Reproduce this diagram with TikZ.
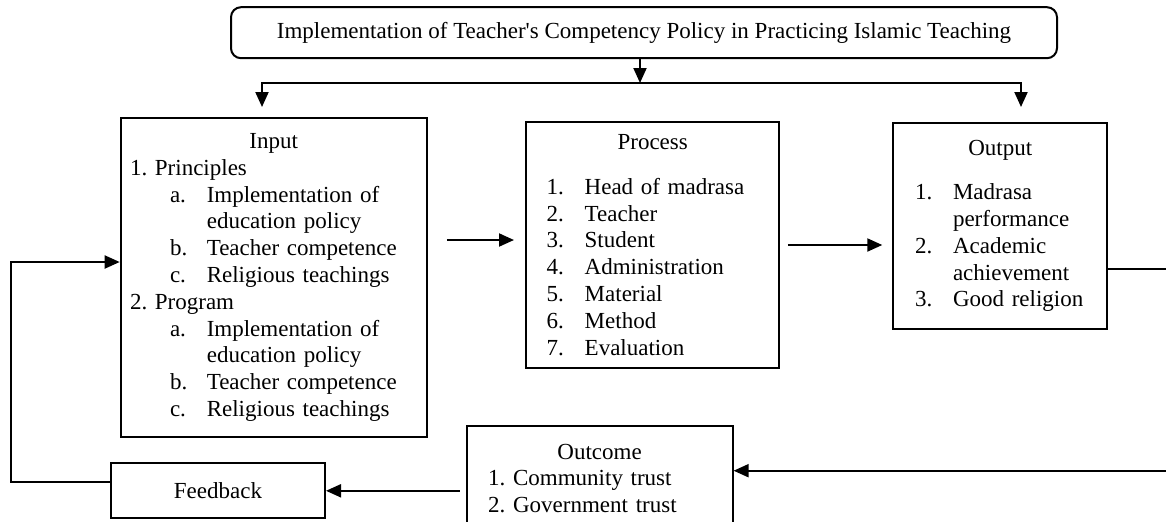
\documentclass[tikz,border=0pt]{standalone}
\usepackage{fontspec}
\setmainfont{Liberation Serif}
\usepackage{tikz}
\usetikzlibrary{arrows.meta}
\usetikzlibrary{positioning}

\newcommand{\numitm}[2]{\makebox[19pt][l]{#1}#2}
\newcommand{\subitm}[2]{\hspace*{20pt}\makebox[18.4pt][l]{#1}#2}
\frenchspacing

\begin{document}
\begin{tikzpicture}[x=0.5pt,y=-0.5pt,
  every node/.style={font=\fontsize{11.5}{13.4}\selectfont},
  box/.style={draw,line width=1pt,inner ysep=0pt,align=left},
  arr/.style={line width=1pt,-{Triangle[length=7.5pt,width=6.5pt]}}]
  \useasboundingbox (0,0) rectangle (1166,521);

  \node[draw,line width=1pt,rounded corners=5pt,minimum width=413pt,minimum height=25.5pt] (title) at (644,32.7)
    {Implementation of Teacher\textquotesingle s Competency Policy in Practicing Islamic Teaching};

  \node[box,text width=143.7pt,inner xsep=4.65pt,minimum width=153pt,minimum height=159.5pt] (inp) at (273.7,277.5)
    {\makebox[143.7pt]{Input}\\
     1. Principles\\
     \subitm{a.}{Implementation of}\\
     \subitm{}{education policy}\\
     \subitm{b.}{Teacher competence}\\
     \subitm{c.}{Religious teachings}\\
     2. Program\\
     \subitm{a.}{Implementation of}\\
     \subitm{}{education policy}\\
     \subitm{b.}{Teacher competence}\\
     \subitm{c.}{Religious teachings}};

  \node[box,text width=106pt,inner xsep=10.35pt,minimum width=126.7pt,minimum height=123.3pt] (proc) at (652.7,245)
    {\makebox[106pt]{Process}\\[9pt]
     \numitm{1.}{Head of madrasa}\\
     \numitm{2.}{Teacher}\\
     \numitm{3.}{Student}\\
     \numitm{4.}{Administration}\\
     \numitm{5.}{Material}\\
     \numitm{6.}{Method}\\
     \numitm{7.}{Evaluation}};

  \node[box,text width=85.3pt,inner xsep=10.85pt,minimum width=107pt,minimum height=102.9pt] (outp) at (1000.3,226.2)
    {\makebox[85.3pt]{Output}\\[8.5pt]
     \numitm{1.}{Madrasa}\\
     \numitm{}{performance}\\
     \numitm{2.}{Academic}\\
     \numitm{}{achievement}\\
     \numitm{3.}{Good religion}};

  \node[box,text width=111.4pt,inner xsep=10.8pt,minimum width=133pt,minimum height=52.5pt,anchor=north] (oc) at (599.6,425)
    {\makebox[111.4pt]{Outcome}\\
     1. Community trust\\
     2. Government trust};

  \node[box,align=center,minimum width=107pt,minimum height=27.5pt] (fb) at (218,490.8) {Feedback};

  \coordinate (jn) at (640,83);
  \coordinate (lt) at (262,107);
  \coordinate (rt) at (1021,107);
  \coordinate (ro) at (1180,269.3);
  \coordinate (ri) at (1180,470.7);
  \coordinate (lp) at (10.7,262);

  \draw[arr](title.south -| jn)--(jn);
  \draw[arr](jn)-|(lt);
  \draw[arr](jn)-|(rt);
  \draw[arr,shorten <=9.6pt,shorten >=5.5pt]([yshift=2.5pt]inp.east |- proc.west)--([yshift=2.5pt]proc.west);
  \draw[arr,shorten <=3.7pt,shorten >=5pt](proc.east)--(proc.east -| outp.west);
  \draw[arr](outp.east |- ro)--(ro)--(ri)--(ri -| oc.east);
  \draw[arr,shorten <=3pt](oc.west |- fb.east)--(fb.east);
  \draw[arr]([yshift=4.4pt]fb.west)-|(lp)--(inp.west |- lp);
\end{tikzpicture}
\end{document}
